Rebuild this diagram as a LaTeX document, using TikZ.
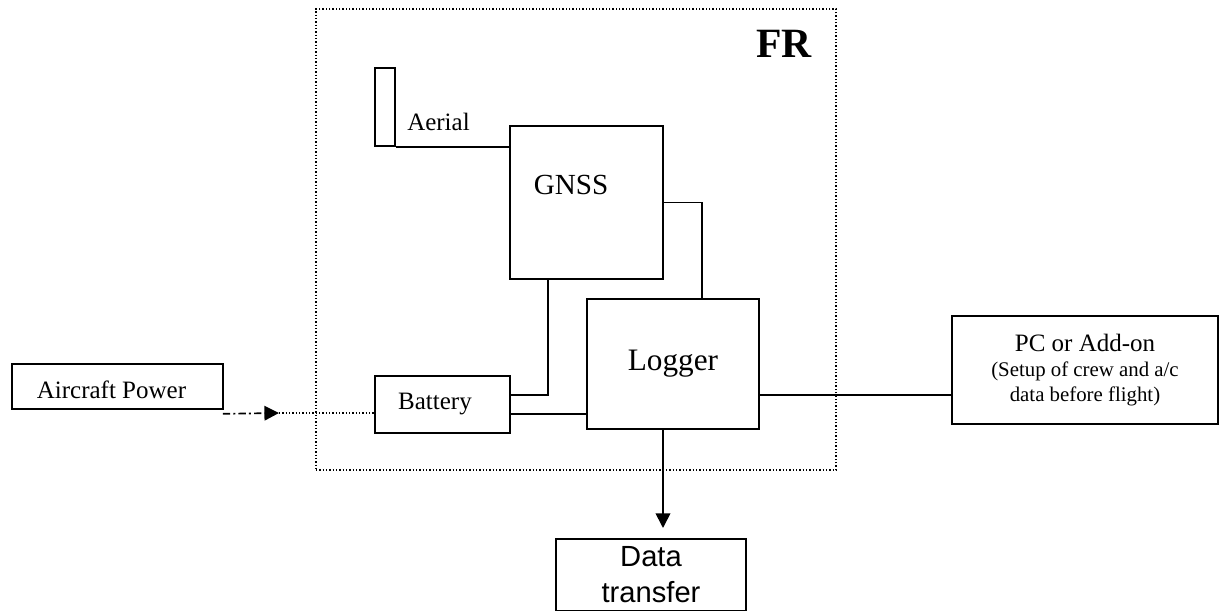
\documentclass[tikz,border=0pt]{standalone}
\usepackage{fontspec}
\setmainfont{Liberation Serif}
\newfontfamily\arialfont{Liberation Sans}
\usetikzlibrary{arrows.meta,positioning,calc}

\begin{document}
\begin{tikzpicture}
[x=0.48pt,y=-0.48pt,
blk/.style={draw,line width=0.8pt,inner sep=0pt,font=\fontsize{12}{14}\selectfont},
lbl/.style={font=\fontsize{12}{14}\selectfont},
wire/.style={line width=0.8pt},
dwire/.style={line width=0.6pt,densely dotted},
arr/.style={-{Triangle[length=7pt,width=7pt]}}]
\useasboundingbox (0,0) rectangle (1219,611);
%% FR unit
% dotted outline
\node[draw,densely dotted,line width=0.6pt,minimum width=249.6pt,minimum height=221.3pt] (fr) at (576,239.5) {};
\node[font=\fontsize{20}{22}\selectfont\bfseries] (frtxt) at (784,44) {FR};
% blocks inside
\node[blk,minimum width=9.6pt,minimum height=37.4pt] (aerial) at (385,107) {};
\node[lbl] (aerialtxt) at (438.5,121.5) {Aerial};
\node[blk,minimum width=73.4pt,minimum height=73.4pt,
      label={[xshift=-7.4pt,yshift=8.4pt,font=\fontsize{14}{16}\selectfont]center:GNSS}] (gnss) at (586.5,202.5) {};
\node[blk,minimum width=82.6pt,minimum height=62.4pt,font=\fontsize{15}{17}\selectfont] (logger) at (673,364) {Logger};
\node[blk,minimum width=64.8pt,minimum height=27.4pt,
      label={[lbl,xshift=-3.6pt]center:Battery}] (battery) at (442.5,404.5) {};
%% Outside
\node[blk,minimum width=101.3pt,minimum height=21.6pt,
      label={[lbl,xshift=-2.9pt,yshift=-1.7pt]center:Aircraft Power}] (power) at (117.5,386.5) {};
\node[blk,minimum width=127.7pt,minimum height=51.8pt,align=center,font=\fontsize{12}{12}\selectfont] (pc) at (1085,370)
  {PC or Add-on\\\fontsize{10}{12}\selectfont(Setup of crew and a/c\\\fontsize{10}{12}\selectfont data before flight)};
\node[blk,anchor=north,minimum width=91.2pt,inner ysep=3.8pt,align=center,font=\arialfont\fontsize{14}{17}\selectfont] (data) at (651,538)
  {Data\\transfer};
%% Connections
\draw[wire] (aerial.south east) -- (aerial.south east -| gnss.west);
\draw[wire] (gnss.east) -| ([xshift=13.9pt]logger.north);
\draw[wire] ([xshift=-18.5pt]gnss.south) |- ([yshift=4.6pt]battery.east);
\draw[wire] ([yshift=-4.6pt]battery.east) -- ([yshift=-4.6pt]battery.east -| logger.west);
\draw[wire] ([yshift=-14.9pt]logger.east) -- ([yshift=-14.9pt]logger.east -| pc.west);
\draw[wire,arr,shorten >=4.8pt] ([xshift=-4.8pt]logger.south) -- ([xshift=-4.8pt]logger.south |- data.north);
% power feed
\coordinate (pin) at ($(power.south east)+(-1,4)$);
\coordinate (tip) at (279,413);
\draw[line width=0.8pt,dash pattern=on 3.5pt off 1.5pt on 1pt off 1.5pt,arr] (pin) -- (tip);
\draw[dwire] (tip) -- (battery.west |- tip);
\end{tikzpicture}
\end{document}
